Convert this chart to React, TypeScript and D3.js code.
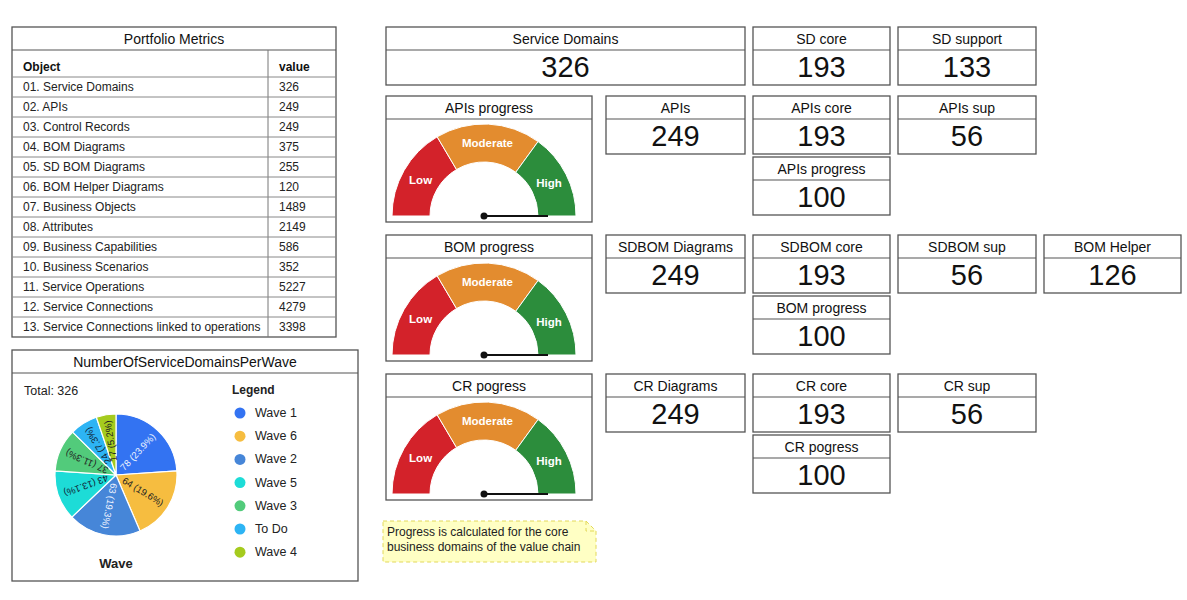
import React from "react";
import * as d3 from "d3";

const FONT = "'Liberation Sans', Arial, sans-serif";

const metricNames = [
  "01. Service Domains",
  "02. APIs",
  "03. Control Records",
  "04. BOM Diagrams",
  "05. SD BOM Diagrams",
  "06. BOM Helper Diagrams",
  "07. Business Objects",
  "08. Attributes",
  "09. Business Capabilities",
  "10. Business Scenarios",
  "11. Service Operations",
  "12. Service Connections",
  "13. Service Connections linked to operations",
];
const metricValues = [326, 249, 249, 375, 255, 120, 1489, 2149, 586, 352, 5227, 4279, 3398];

const waveNames = ["Wave 1", "Wave 6", "Wave 2", "Wave 5", "Wave 3", "To Do", "Wave 4"];
const waveCounts = [78, 64, 63, 43, 37, 24, 17];
const waveColors = ["#3373f2", "#f6bd40", "#4686d8", "#1ddcd7", "#52cb7b", "#2db4f4", "#a5cb1e"];
const waveLabelColors = ["#eef3ff", "#222", "#eef3ff", "#123", "#222", "#123", "#222"];

const cardTitles = [
  "Service Domains", "SD core", "SD support",
  "APIs", "APIs core", "APIs sup", "APIs progress",
  "SDBOM Diagrams", "SDBOM core", "SDBOM sup", "BOM Helper", "BOM progress",
  "CR Diagrams", "CR core", "CR sup", "CR pogress",
];
const cardValues = [326, 193, 133, 249, 193, 56, 100, 249, 193, 56, 126, 100, 249, 193, 56, 100];

const gaugeTitles = ["APIs progress", "BOM progress", "CR pogress"];
const gaugeValues = [100, 100, 100];
const bandNames = ["Low", "Moderate", "High"];
const bandLimits = [0, 33, 70, 100];
const bandColors = ["#d3222a", "#e38c2f", "#2c8d3c"];

// layout: [x, y, width] for each card, same order as cardTitles
const cardLayout: [number, number, number][] = [
  [386, 27, 359], [753, 27, 137], [898, 27, 138],
  [606, 96, 139], [753, 96, 137], [898, 96, 138], [753, 157, 137],
  [606, 235, 139], [753, 235, 137], [898, 235, 138], [1044, 235, 137], [753, 296, 137],
  [606, 374, 139], [753, 374, 137], [898, 374, 138], [753, 435, 137],
];
const gaugeTops = [96, 235, 374];

function Card({ x, y, w, title, value }: { x: number; y: number; w: number; title: string; value: number }) {
  const h = 58;
  return (
    <g>
      <rect x={x} y={y} width={w} height={h} fill="#fff" stroke="#555" strokeWidth={1.3} />
      <line x1={x} x2={x + w} y1={y + 23} y2={y + 23} stroke="#555" strokeWidth={1.2} />
      <text x={x + w / 2} y={y + 12} textAnchor="middle" dominantBaseline="central" fontSize={14} fill="#111">
        {title}
      </text>
      <text x={x + w / 2} y={y + 39.5} textAnchor="middle" dominantBaseline="central" fontSize={29} fill="#111">
        {value}
      </text>
    </g>
  );
}

function Gauge({ top, title, value }: { top: number; title: string; value: number }) {
  const x = 386, w = 206, h = 126;
  const cx = 484, cy = top + 120;
  const rOuter = 92, rInner = 54;
  const angle = d3.scaleLinear().domain([0, 100]).range([-Math.PI / 2, Math.PI / 2]);
  const arc = d3.arc<{ s: number; e: number }>()
    .innerRadius(rInner)
    .outerRadius(rOuter)
    .startAngle((d) => angle(d.s))
    .endAngle((d) => angle(d.e));
  const needleLen = 64;
  const a = angle(value);
  return (
    <g>
      <rect x={x} y={top} width={w} height={h} fill="#fff" stroke="#555" strokeWidth={1.3} />
      <line x1={x} x2={x + w} y1={top + 23} y2={top + 23} stroke="#555" strokeWidth={1.2} />
      <text x={x + w / 2} y={top + 12} textAnchor="middle" dominantBaseline="central" fontSize={14} fill="#111">
        {title}
      </text>
      <g transform={`translate(${cx},${cy})`}>
        {bandNames.map((name, i) => {
          const d = { s: bandLimits[i], e: bandLimits[i + 1] };
          const [lx, ly] = arc.centroid(d);
          return (
            <g key={name}>
              <path d={arc(d) ?? ""} fill={bandColors[i]} stroke="#fff" strokeWidth={1} />
              <text x={lx} y={ly} textAnchor="middle" dominantBaseline="central" fontSize={11.5} fontWeight="bold" fill="#fff">
                {name}
              </text>
            </g>
          );
        })}
        <line x1={0} y1={0} x2={needleLen * Math.sin(a)} y2={-needleLen * Math.cos(a)} stroke="#111" strokeWidth={2} />
        <circle r={3.5} fill="#111" />
      </g>
    </g>
  );
}

function MetricsTable() {
  const x = 12, y = 27, w = 324, colX = 268;
  const titleH = 23, headH = 27, rowH = 20;
  const bodyTop = y + titleH + headH;
  const h = titleH + headH + rowH * metricNames.length;
  return (
    <g>
      <rect x={x} y={y} width={w} height={h} fill="#fff" stroke="#555" strokeWidth={1.3} />
      <line x1={x} x2={x + w} y1={y + titleH} y2={y + titleH} stroke="#555" strokeWidth={1.2} />
      <text x={x + w / 2} y={y + 12} textAnchor="middle" dominantBaseline="central" fontSize={14} fill="#111">
        Portfolio Metrics
      </text>
      <line x1={colX} x2={colX} y1={y + titleH} y2={y + h} stroke="#777" strokeWidth={1} />
      <text x={23} y={y + titleH + 17} dominantBaseline="central" fontSize={12} fontWeight="bold" fill="#111">Object</text>
      <text x={279} y={y + titleH + 17} dominantBaseline="central" fontSize={12} fontWeight="bold" fill="#111">value</text>
      {metricNames.map((name, i) => {
        const ry = bodyTop + i * rowH;
        return (
          <g key={name}>
            <line x1={x} x2={x + w} y1={ry} y2={ry} stroke="#888" strokeWidth={1} />
            <text x={23} y={ry + rowH / 2} dominantBaseline="central" fontSize={12} fill="#222">{name}</text>
            <text x={279} y={ry + rowH / 2} dominantBaseline="central" fontSize={12} fill="#222">{metricValues[i]}</text>
          </g>
        );
      })}
    </g>
  );
}

function WavePie() {
  const x = 12, y = 350, w = 346, h = 231;
  const cx = 116, cy = 475, r = 61;
  const total = d3.sum(waveCounts);
  const data = waveNames.map((name, i) => ({ name, count: waveCounts[i], i }));
  const pie = d3.pie<{ name: string; count: number; i: number }>().sort(null).value((d) => d.count);
  const arcs = pie(data);
  const arc = d3.arc<d3.PieArcDatum<{ name: string; count: number; i: number }>>().innerRadius(0).outerRadius(r);
  return (
    <g>
      <rect x={x} y={y} width={w} height={h} fill="#fff" stroke="#555" strokeWidth={1.3} />
      <line x1={x} x2={x + w} y1={y + 23} y2={y + 23} stroke="#555" strokeWidth={1.2} />
      <text x={x + w / 2} y={y + 12} textAnchor="middle" dominantBaseline="central" fontSize={14} fill="#111">
        NumberOfServiceDomainsPerWave
      </text>
      <text x={24} y={391} dominantBaseline="central" fontSize={12.5} fill="#222">Total:  {total}</text>
      <g transform={`translate(${cx},${cy})`}>
        {arcs.map((a) => (
          <path key={a.data.name} d={arc(a) ?? ""} fill={waveColors[a.data.i]} stroke="#fff" strokeWidth={1.2} />
        ))}
        {arcs.map((a) => {
          const mid = (a.startAngle + a.endAngle) / 2;
          const lr = r - 6;
          const pct = Math.floor((a.data.count * 1000) / total) / 10;
          return (
            <text
              key={a.data.name + "-l"}
              transform={`translate(${lr * Math.sin(mid)},${-lr * Math.cos(mid)}) rotate(${(mid * 180) / Math.PI - 90})`}
              textAnchor="end"
              dominantBaseline="central"
              fontSize={9.5}
              fill={waveLabelColors[a.data.i]}
            >
              {`${a.data.count} (${pct.toFixed(1)}%)`}
            </text>
          );
        })}
      </g>
      <text x={cx} y={563} textAnchor="middle" dominantBaseline="central" fontSize={13} fontWeight="bold" fill="#222">Wave</text>
      <text x={232} y={390} dominantBaseline="central" fontSize={12} fontWeight="bold" fill="#222">Legend</text>
      {waveNames.map((name, i) => (
        <g key={name}>
          <circle cx={240} cy={413 + i * 23.2} r={5.5} fill={waveColors[i]} />
          <text x={255} y={413 + i * 23.2} dominantBaseline="central" fontSize={12.5} fill="#222">{name}</text>
        </g>
      ))}
    </g>
  );
}

function Note() {
  const x = 383, y = 521, w = 213, h = 41, fold = 10;
  const path = `M${x},${y} H${x + w - fold} L${x + w},${y + fold} V${y + h} H${x} Z`;
  return (
    <g>
      <path d={path} fill="#ffffc4" stroke="#e2d85a" strokeWidth={1} strokeDasharray="4,3" />
      <path d={`M${x + w - fold},${y} V${y + fold} H${x + w}`} fill="none" stroke="#e2d85a" strokeWidth={1} strokeDasharray="4,3" />
      <text x={x + 4} y={y + 11} dominantBaseline="central" fontSize={12} fill="#222">Progress is calculated for the core</text>
      <text x={x + 4} y={y + 26} dominantBaseline="central" fontSize={12} fill="#222">business domains of the value chain</text>
    </g>
  );
}

export default function App() {
  return (
    <svg
      width={1187}
      height={600}
      style={{ position: "absolute", left: 0, top: 0, background: "#fff" }}
      fontFamily={FONT}
    >
      <MetricsTable />
      <WavePie />
      {gaugeTitles.map((t, i) => (
        <Gauge key={t} top={gaugeTops[i]} title={t} value={gaugeValues[i]} />
      ))}
      {cardTitles.map((t, i) => (
        <Card key={t} x={cardLayout[i][0]} y={cardLayout[i][1]} w={cardLayout[i][2]} title={t} value={cardValues[i]} />
      ))}
      <Note />
    </svg>
  );
}
